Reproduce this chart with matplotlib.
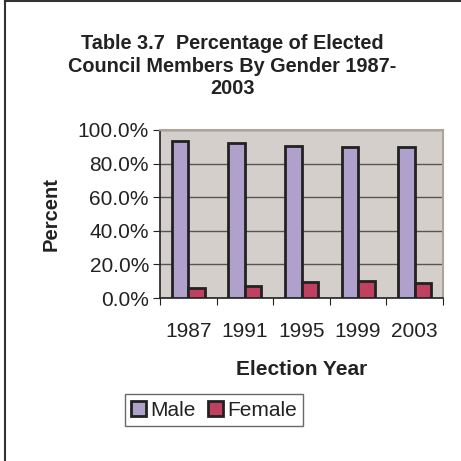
import numpy as np
import matplotlib
matplotlib.use("Agg")
import matplotlib.pyplot as plt
from matplotlib.lines import Line2D
from matplotlib.ticker import FuncFormatter

plt.rcParams["font.family"] = ["Liberation Sans", "DejaVu Sans"]

# Data
years = ["1987", "1991", "1995", "1999", "2003"]
male = [93.6, 92.1, 90.3, 90.1, 90.1]
female = [5.8, 7.3, 9.3, 10.1, 9.1]

male_color = "#B0A0CC"
female_color = "#C0405F"
text_color = "#222222"

fig = plt.figure(figsize=(4.61, 4.61), dpi=100)
ax = fig.add_axes([160 / 461, 1 - 298 / 461, 283 / 461, 168 / 461])
ax.set_facecolor("#D4CFCB")

x = np.arange(len(years))
width = 0.29
ax.bar(x - width / 2, male, width, color=male_color, edgecolor="#222222",
       linewidth=2.0, label="Male", zorder=3)
ax.bar(x + width / 2, female, width, color=female_color, edgecolor="#222222",
       linewidth=2.0, label="Female", zorder=3)

ax.set_xlim(-0.5, len(years) - 0.5)
ax.set_ylim(0, 100)
ax.set_yticks([0, 20, 40, 60, 80, 100])
ax.yaxis.set_major_formatter(FuncFormatter(lambda v, p: f"{v:.1f}%"))
ax.grid(axis="y", color="#555555", linewidth=1.0, zorder=1)

# x ticks at category boundaries, labels in the middle
ax.set_xticks(np.arange(len(years) + 1) - 0.5)
ax.set_xticklabels([])
ax.set_xticks(x, minor=True)
ax.set_xticklabels(years, minor=True)
ax.tick_params(axis="x", which="minor", length=0, pad=17, labelsize=15, colors=text_color)
ax.tick_params(axis="x", which="major", length=5, direction="out", color="#222222")
ax.tick_params(axis="y", length=5, direction="out", labelsize=15, colors=text_color, pad=3)

for side in ["top", "right"]:
    ax.spines[side].set_color("#ABA39C")
    ax.spines[side].set_linewidth(1.5)
for side in ["left", "bottom"]:
    ax.spines[side].set_color("#222222")
    ax.spines[side].set_linewidth(1.2)

ax.set_ylabel("Percent", fontsize=14.5, fontweight="bold", color=text_color, labelpad=12)
ax.set_xlabel("Election Year", fontsize=15, fontweight="bold", color=text_color, labelpad=14)

fig.text(232 / 461, 1 - 66 / 461,
         "Table 3.7  Percentage of Elected\nCouncil Members By Gender 1987-\n2003",
         ha="center", va="center", multialignment="center", fontsize=14.3,
         fontweight="bold", color=text_color, linespacing=1.25)

leg = fig.legend(loc="center", bbox_to_anchor=(214 / 461, 1 - 410 / 461), ncol=2,
                 fontsize=15, frameon=True, fancybox=False, handlelength=0.7,
                 handleheight=0.7, handletextpad=0.2, columnspacing=0.6,
                 borderpad=0.3, borderaxespad=0)
leg.get_frame().set_edgecolor("#444444")
leg.get_frame().set_linewidth(1.0)
for t in leg.get_texts():
    t.set_color(text_color)

# outer chart border (left and top visible)
fig.add_artist(Line2D([4.5 / 461, 4.5 / 461], [0, 1 - 1.5 / 461], color="#333333", linewidth=1.5))
fig.add_artist(Line2D([4.5 / 461, 1], [1 - 1.5 / 461, 1 - 1.5 / 461], color="#333333", linewidth=1.5))

fig.savefig("out.png", dpi=100)
